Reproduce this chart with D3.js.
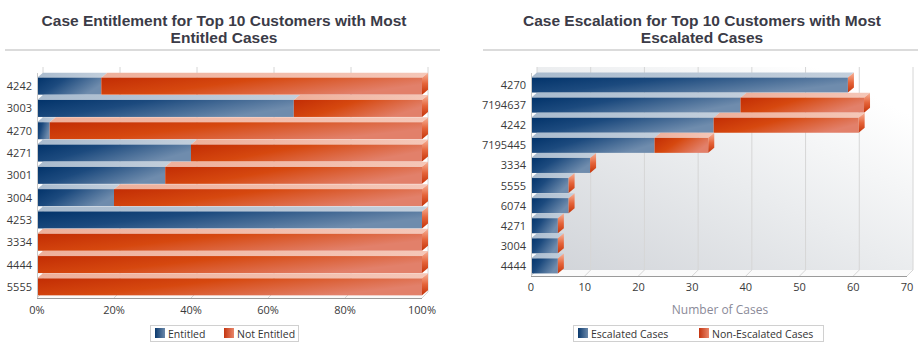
<!DOCTYPE html>
<html>
<head>
<meta charset="utf-8">
<script src="https://cdn.jsdelivr.net/npm/d3@7"></script>
<style>
  body { margin: 0; background: #fff; }
  svg { display: block; }
  .title { font-family: "Liberation Sans", Arial, sans-serif; font-weight: bold; font-size: 15.5px; fill: #3b3b47; }
  .lbl { font-family: "Open Sans", sans-serif; font-size: 11px; fill: #3a3a3a; }
  .leg { font-family: "Open Sans", sans-serif; font-size: 10.5px; fill: #333; }
</style>
</head>
<body>
<svg id="chart" width="922" height="353"></svg>
<script>
// left chart data (percent of cases)
var leftCats = ["4242", "3003", "4270", "4271", "3001", "3004", "4253", "3334", "4444", "5555"];
var entitled = [16.7, 66.7, 3.3, 40, 33.3, 20, 100, 0, 0, 0];
var notEntitled = [83.3, 33.3, 96.7, 60, 66.7, 80, 0, 100, 100, 100];
var leftTicks = [0, 20, 40, 60, 80, 100];

// right chart data (number of cases)
var rightCats = ["4270", "7194637", "4242", "7195445", "3334", "5555", "6074", "4271", "3004", "4444"];
var escalated = [59, 39, 34, 23, 11, 7, 7, 5, 5, 5];
var nonEscalated = [0, 23, 27, 10, 0, 0, 0, 0, 0, 0];
var rightTicks = [0, 10, 20, 30, 40, 50, 60, 70];

var svg = d3.select("#chart");
var defs = svg.append("defs");

function grad(id, stops, x2, y2) {
    var g = defs.append("linearGradient").attr("id", id)
        .attr("x1", 0).attr("y1", 0).attr("x2", x2).attr("y2", y2);
    stops.forEach(function(s) {
        g.append("stop").attr("offset", s[0]).attr("stop-color", s[1]);
    });
}
grad("blueFront", [[0, "#02336a"], [0.4, "#1c4a7e"], [1, "#6f8cad"]], 1, 0.4);
grad("redFront", [[0, "#c22d04"], [0.45, "#d6480f"], [1, "#e2806a"]], 1, 0.4);
grad("blueTop", [[0, "#a9bbce"], [1, "#c3cfdc"]], 1, 0);
grad("redTop", [[0, "#eeb09b"], [1, "#f5c7b8"]], 1, 0);
grad("redSide", [[0, "#f7b39a"], [0.5, "#e5643a"], [1, "#c43308"]], 0, 1);
grad("swBlue", [[0, "#0b3a6e"], [1, "#6a88aa"]], 1, 0);
grad("swRed", [[0, "#c53510"], [1, "#e8866a"]], 1, 0);
var wall = defs.append("linearGradient").attr("id", "wall")
    .attr("x1", 0).attr("y1", 1).attr("x2", 0.85).attr("y2", 0.1);
wall.append("stop").attr("offset", 0).attr("stop-color", "#d0d3d8");
wall.append("stop").attr("offset", 0.55).attr("stop-color", "#eaecee");
wall.append("stop").attr("offset", 1).attr("stop-color", "#ffffff");

function drawChart(o) {
    var g = svg.append("g");
    var d = 6;

    // title
    o.title.forEach(function(t, i) {
        g.append("text").attr("class", "title")
            .attr("x", o.cx).attr("y", 26 + i * 17)
            .attr("text-anchor", "middle").text(t);
    });
    g.append("line")
        .attr("x1", o.rule[0]).attr("x2", o.rule[1])
        .attr("y1", 50).attr("y2", 50)
        .attr("stroke", "#cfcfcf").attr("stroke-width", 1.5);

    var x = d3.scaleLinear().domain(o.domain).range(o.xr);
    var y = d3.scaleBand().domain(o.cats).range(o.yr).padding(0);
    var base = o.yr[1];
    var top = o.yr[0] - 2;
    var xEnd = o.xr[1];

    // back wall + floor
    g.append("rect")
        .attr("x", o.xr[0] + d).attr("y", top - d)
        .attr("width", xEnd - o.xr[0]).attr("height", base - top)
        .attr("fill", o.wallFill);
    g.append("path")
        .attr("d", "M" + o.xr[0] + "," + base + "L" + (o.xr[0] + d) + "," + (base - d) +
            "L" + (xEnd + d) + "," + (base - d) + "L" + xEnd + "," + base + "Z")
        .attr("fill", "#fafafa");

    // grid lines on the wall and floor
    o.ticks.forEach(function(t) {
        var gx = x(t);
        g.append("line")
            .attr("x1", gx + d).attr("x2", gx + d)
            .attr("y1", top - d).attr("y2", base - d)
            .attr("stroke", "#d6d6d6");
        g.append("line")
            .attr("x1", gx + d).attr("x2", gx)
            .attr("y1", base - d).attr("y2", base)
            .attr("stroke", "#d6d6d6");
    });

    // bars
    var hFront = o.barH;
    var rows = o.cats.map(function(c, i) {
        return { cat: c, segs: [
            { x0: 0, x1: o.s1[i], front: "url(#blueFront)", top: "url(#blueTop)" },
            { x0: o.s1[i], x1: o.s1[i] + o.s2[i], front: "url(#redFront)", top: "url(#redTop)" }
        ] };
    });

    rows.forEach(function(r) {
        var yc = y(r.cat) + y.bandwidth() / 2;
        var yt = yc - hFront / 2;
        var yb = yc + hFront / 2;
        var rg = g.append("g");
        r.segs.forEach(function(s) {
            if (s.x1 - s.x0 <= 0) return;
            var a = x(s.x0), b = x(s.x1);
            rg.append("path")
                .attr("d", "M" + a + "," + yt + "L" + b + "," + yt + "L" + (b + d) + "," + (yt - d + 1) +
                    "L" + (a + d) + "," + (yt - d + 1) + "Z")
                .attr("fill", s.top);
            rg.append("rect")
                .attr("x", a).attr("y", yt)
                .attr("width", b - a).attr("height", hFront)
                .attr("fill", s.front);
        });
        var e = x(r.segs[1].x1);
        rg.append("path")
            .attr("d", "M" + e + "," + yt + "L" + (e + d) + "," + (yt - d + 1) + "L" + (e + d) + "," + (yb - d + 1) +
                "L" + e + "," + yb + "Z")
            .attr("fill", "url(#redSide)");
        g.append("text").attr("class", "lbl")
            .attr("x", o.xr[0] - 5).attr("y", yc + 4)
            .attr("text-anchor", "end").text(r.cat);
    });

    // axes lines
    g.append("line").attr("x1", o.xr[0]).attr("x2", xEnd)
        .attr("y1", base + 0.5).attr("y2", base + 0.5)
        .attr("stroke", "#9a9a9a");
    g.append("line").attr("x1", o.xr[0] + 0.5).attr("x2", o.xr[0] + 0.5)
        .attr("y1", top).attr("y2", base)
        .attr("stroke", "#c8c8c8");

    o.ticks.forEach(function(t) {
        g.append("text").attr("class", "lbl")
            .attr("x", x(t)).attr("y", base + o.tickDy)
            .attr("text-anchor", "middle").text(o.fmt(t));
    });

    if (o.axisTitle) {
        g.append("text").attr("class", "lbl")
            .attr("x", (o.xr[0] + xEnd) / 2 + 1).attr("y", 314)
            .attr("text-anchor", "middle")
            .style("font-size", "12px").style("fill", "#8a8a98")
            .text(o.axisTitle);
    }

    // legend
    var lg = g.append("g");
    lg.append("rect")
        .attr("x", o.leg.x + 0.5).attr("y", 325.5)
        .attr("width", o.leg.w).attr("height", 16)
        .attr("fill", "#fff").attr("stroke", "#d0d0d0");
    o.leg.items.forEach(function(it, i) {
        lg.append("rect")
            .attr("x", it.x).attr("y", 328)
            .attr("width", 10).attr("height", 10)
            .attr("fill", i === 0 ? "url(#swBlue)" : "url(#swRed)");
        lg.append("text").attr("class", "leg")
            .attr("x", it.x + 13).attr("y", 337.5)
            .text(it.text);
    });
}

drawChart({
    title: ["Case Entitlement for Top 10 Customers with Most", "Entitled Cases"],
    cx: 224, rule: [5, 440],
    cats: leftCats, s1: entitled, s2: notEntitled,
    domain: [0, 100], xr: [37, 422], yr: [75, 298],
    barH: 17, ticks: leftTicks, tickDy: 16,
    fmt: function(t) { return t + "%"; },
    wallFill: "#ffffff",
    leg: { x: 150, w: 148, items: [{ x: 155, text: "Entitled" }, { x: 224, text: "Not Entitled" }] }
});

drawChart({
    title: ["Case Escalation for Top 10 Customers with Most", "Escalated Cases"],
    cx: 702, rule: [483, 918],
    cats: rightCats, s1: escalated, s2: nonEscalated,
    domain: [0, 70], xr: [531, 907], yr: [75, 276],
    barH: 15, ticks: rightTicks, tickDy: 15,
    fmt: function(t) { return t; },
    axisTitle: "Number of Cases",
    wallFill: "url(#wall)",
    leg: { x: 573, w: 250, items: [{ x: 578, text: "Escalated Cases" }, { x: 699, text: "Non-Escalated Cases" }] }
});
</script>
</body>
</html>
